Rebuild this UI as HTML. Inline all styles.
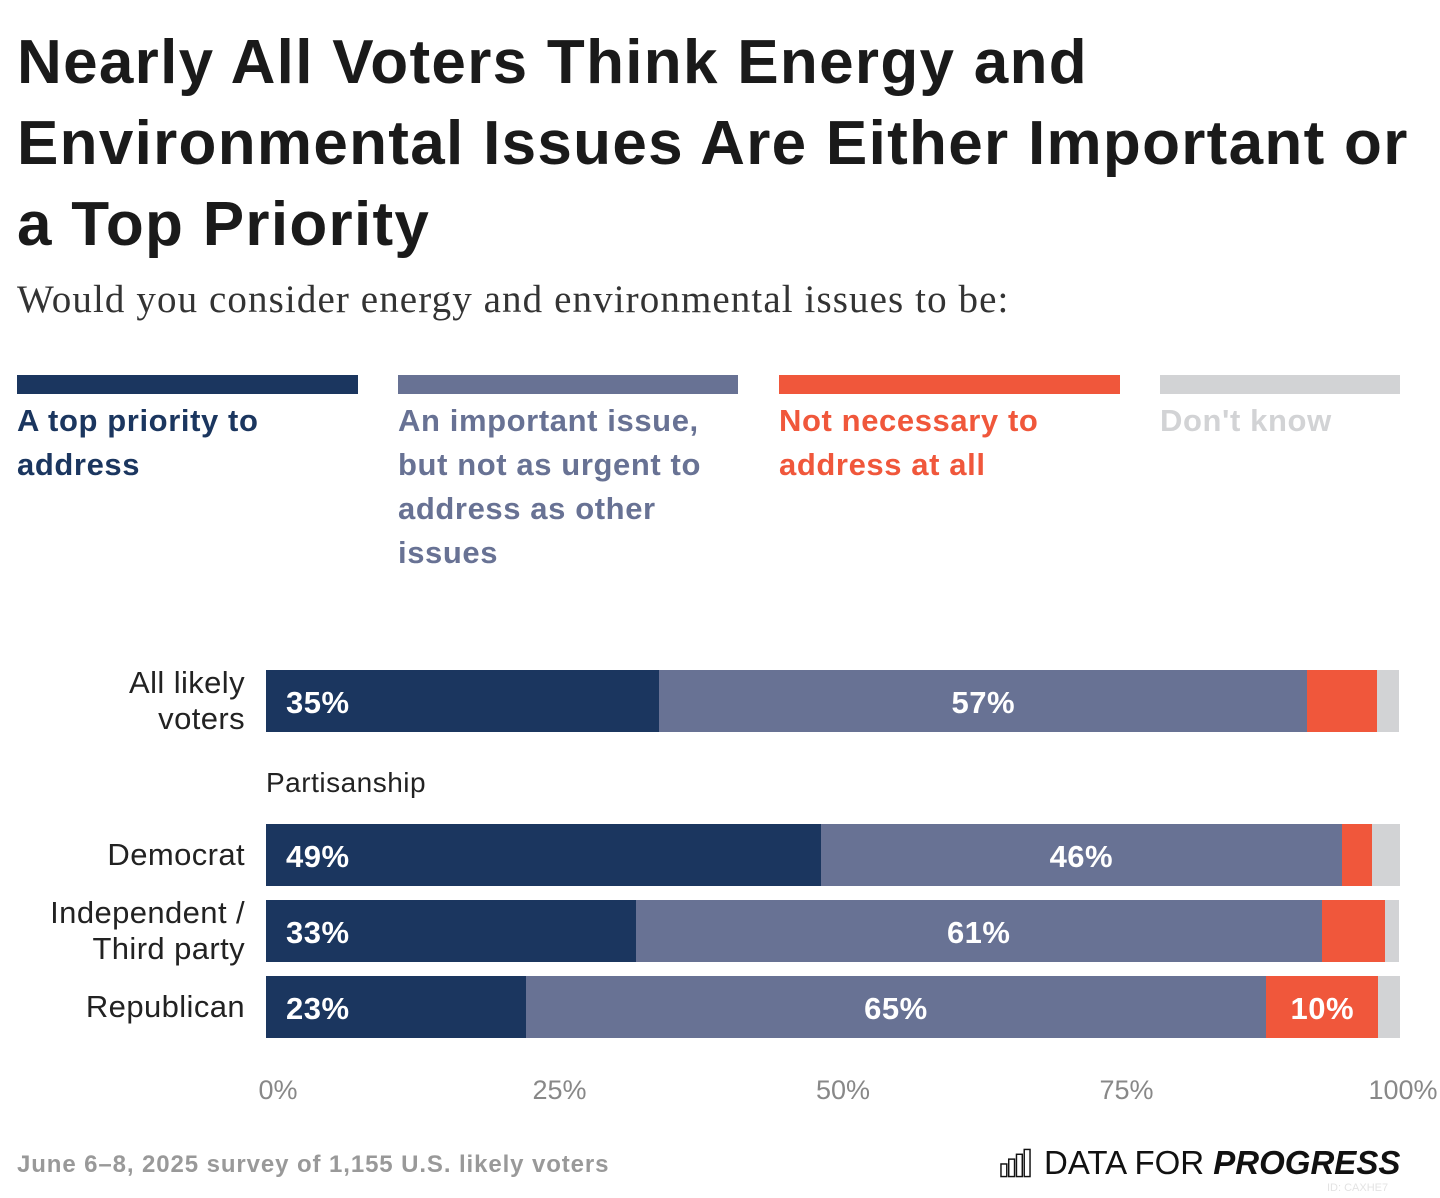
<!DOCTYPE html>
<html><head><meta charset="utf-8"><style>
body{margin:0;width:1440px;height:1198px;background:#fff;font-family:"Liberation Sans",sans-serif;position:relative;overflow:hidden}
.abs{position:absolute}
h1{position:absolute;left:17px;top:22px;margin:0;font-size:62px;line-height:81px;font-weight:700;color:#1a1a1a;letter-spacing:1.3px;width:1420px;white-space:nowrap}
.sub{left:17px;top:277px;font-family:"Liberation Serif",serif;font-size:39px;color:#333;letter-spacing:1.1px}
.lg{font-size:31px;line-height:44px;font-weight:700;letter-spacing:0.6px}
.sw{height:19px}
.cat{right:1195px;text-align:right;font-size:31px;line-height:36px;color:#222;letter-spacing:0.4px}
.tick{top:1075px;font-size:27px;color:#888}
</style></head><body>
<h1>Nearly All Voters Think Energy and<br>Environmental Issues Are Either Important or<br>a Top Priority</h1>
<div class="abs sub">Would you consider energy and environmental issues to be:</div>

<div class="abs sw" style="left:17px;top:375px;width:341px;background:#1b365f"></div>
<div class="abs lg" style="left:17px;top:399px;width:330px;color:#1b365f">A top priority to address</div>
<div class="abs sw" style="left:398px;top:375px;width:340px;background:#687294"></div>
<div class="abs lg" style="left:398px;top:399px;width:335px;color:#687294">An important issue, but not as urgent to address as other issues</div>
<div class="abs sw" style="left:779px;top:375px;width:341px;background:#f0573b"></div>
<div class="abs lg" style="left:779px;top:399px;width:330px;color:#f0573b">Not necessary to address at all</div>
<div class="abs sw" style="left:1160px;top:375px;width:240px;background:#d2d3d5"></div>
<div class="abs lg" style="left:1160px;top:399px;width:240px;color:#d2d3d5">Don't know</div>

<div class="abs" style="left:266px;top:767px;font-size:28px;color:#222;letter-spacing:0.5px">Partisanship</div>

<div id="chart"></div>

<div class="abs" style="left:17px;top:1151px;font-size:24px;font-weight:700;color:#999;letter-spacing:0.9px">June 6–8, 2025 survey of 1,155 U.S. likely voters</div>
<div class="abs" style="left:1000px;top:1145px;height:36px;display:flex;align-items:center">
<svg width="31" height="30" viewBox="0 0 32 30"><g fill="none" stroke="#111" stroke-width="1.5"><rect x="1" y="16" width="6" height="13"/><rect x="9" y="11" width="6" height="18"/><rect x="17" y="6" width="6" height="23"/><rect x="25" y="1" width="6" height="28"/></g></svg>
<span style="margin-left:13px;font-size:33px;color:#111;letter-spacing:0px">DATA FOR <b><i>PROGRESS</i></b></span></div>
<div class="abs" style="left:1327px;top:1182px;font-size:11px;color:#e3e3e3">ID: CAXHE7</div>

<script>
const categories=["All likely voters","Democrat","Independent / Third party","Republican"];
const topPriority=[34.7,48.9,32.6,22.9];
const important=[57.1,46.0,60.5,65.3];
const notNecessary=[6.2,2.6,5.6,9.9];
const dontKnow=[1.9,2.5,1.2,1.9];
const tickLabels=["0%","25%","50%","75%","100%"];
const tickValues=[0,25,50,75,100];

const X0=266,X1=1400;
const rowTops=[670,824,900,976];
const barH=62;
const xs=v=>X0+(X1-X0)*v/100;
const series=[{d:topPriority,c:"#1b365f",n:"top-priority"},{d:important,c:"#687294",n:"important"},{d:notNecessary,c:"#f0573b",n:"not-necessary"},{d:dontKnow,c:"#d2d3d5",n:"dont-know"}];
const root=document.getElementById('chart');
const catLines=[["All likely","voters"],["Democrat"],["Independent /","Third party"],["Republican"]];
categories.forEach((cat,i)=>{
  const y=rowTops[i];
  const lab=document.createElement('div');
  lab.className='abs cat';
  
  
  const lines=catLines[i]||[cat];
  lab.innerHTML=lines.join('<br>');
  lab.style.top=(y+barH/2-lines.length*18)+'px';
  root.appendChild(lab);
  let acc=0;
  series.forEach((s,si)=>{
    const v=s.d[i];
    const seg=document.createElement('div');
    seg.className='abs';
    
    
    const l=xs(acc),r=xs(acc+v);
    seg.style.cssText=`left:${l}px;top:${y}px;width:${r-l}px;height:${barH}px;background:${s.c}`;
    root.appendChild(seg);
    if(v>=8){
      const t=document.createElement('div');
      t.className='abs';
      
      
      t.textContent=Math.round(v)+'%';
      const st=`top:${y+2}px;line-height:${barH}px;font-size:31px;font-weight:700;color:#fff;letter-spacing:0.5px;`;
      if(si===0){t.style.cssText=st+`left:${l+20}px`;}
      else{t.style.cssText=st+`left:${(l+r)/2-100}px;width:200px;text-align:center`;}
      root.appendChild(t);
    }
    acc+=v;
  });
});
tickValues.forEach((v,i)=>{
  const t=document.createElement('div');
  t.className='abs tick';
  
  
  t.textContent=tickLabels[i];
  const cx=xs(v)+ (i===0?12:(i===4?3:10));
  t.style.left=(cx-60)+'px';t.style.width='120px';t.style.textAlign='center';
  root.appendChild(t);
});
</script>
</body></html>
